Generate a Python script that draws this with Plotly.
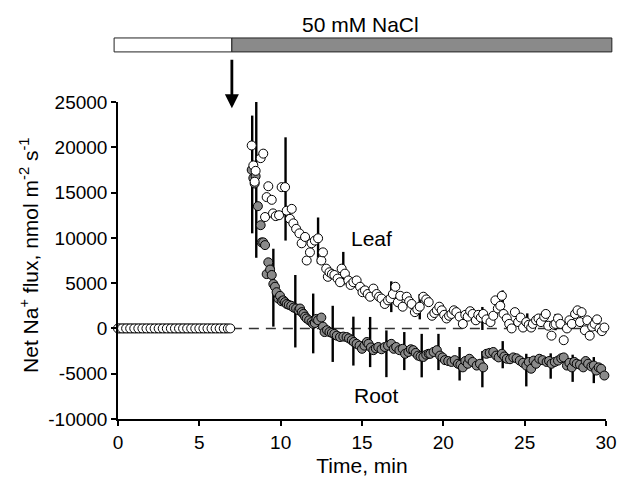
import plotly.graph_objects as go

# ---------------- data ----------------
salt_start = 7.0

pre_leaf_t = [0.0, 0.25, 0.5, 0.75, 1.0, 1.25, 1.5, 1.75, 2.0, 2.25, 2.5, 2.75, 3.0, 3.25,
              3.5, 3.75, 4.0, 4.25, 4.5, 4.75, 5.0, 5.25, 5.5, 5.75, 6.0, 6.25, 6.5, 6.75, 6.9]
pre_leaf_v = [0, 0, 0, 0, 0, 0, 0, 0, 0, 0, 0, 0, 0, 0, 0, 0, 0, 0, 0, 0, 0, 0, 0, 0, 0, 0, 0, 0, 0]
pre_root_t = [0.12, 0.37, 0.62, 0.87, 1.12, 1.37, 1.62, 1.87, 2.12, 2.37, 2.62, 2.87, 3.12, 3.37,
              3.62, 3.87, 4.12, 4.37, 4.62, 4.87, 5.12, 5.37, 5.62, 5.87, 6.12, 6.37, 6.62]
pre_root_v = [0, 0, 0, 0, 0, 0, 0, 0, 0, 0, 0, 0, 0, 0, 0, 0, 0, 0, 0, 0, 0, 0, 0, 0, 0, 0, 0]

leaf_t = [8.22, 8.32, 8.40, 8.46, 8.77, 8.93, 9.04, 9.14, 9.24, 9.45, 9.53, 9.70, 9.90, 10.06,
          10.27, 10.37, 10.57, 10.68, 10.78, 10.95, 11.15, 11.29, 11.50, 11.60, 11.80, 11.90,
          12.10, 12.30, 12.50, 12.60, 12.80, 12.90, 13.00, 13.15, 13.30, 13.50, 13.65, 13.75,
          13.95, 14.16, 14.30, 14.47, 14.67, 14.88, 15.03, 15.18, 15.35, 15.50, 15.70, 15.90,
          16.05, 16.20, 16.40, 16.60, 16.75, 16.90, 17.05, 17.20, 17.35, 17.50, 17.75, 17.90,
          18.05, 18.25, 18.40, 18.55, 18.77, 18.95, 19.10, 19.30, 19.45, 19.60, 19.75, 19.90,
          20.05, 20.20, 20.35, 20.50, 20.65, 20.80, 21.00, 21.20, 21.35, 21.50, 21.65, 21.80,
          22.00, 22.15, 22.30, 22.45, 22.65, 22.90, 23.07, 23.20, 23.35, 23.50, 23.60, 23.70,
          23.90, 24.05, 24.20, 24.40, 24.60, 24.75, 24.90, 25.10, 25.25, 25.40, 25.50, 25.70,
          25.85, 26.00, 26.20, 26.30, 26.45, 26.65, 26.80, 26.90, 27.05, 27.20, 27.40, 27.60,
          27.75, 27.90, 28.10, 28.25, 28.40, 28.50, 28.70, 28.85, 29.00, 29.15, 29.30, 29.45,
          29.60, 29.75, 29.90]
leaf_v = [20200, 18000, 16200, 17400, 18800, 19300, 12300, 14500, 15700, 14200, 12700, 12400,
          12500, 15600, 15600, 13000, 12100, 13200, 11600, 11000, 10500, 9400, 10100, 7500,
          8400, 9400, 9700, 9950, 7500, 8400, 6600, 5700, 6200, 6000, 5900, 5500, 5100, 6600,
          6050, 5300, 4800, 5100, 5300, 4600, 4000, 4200, 3800, 3500, 4400, 3800, 3500, 3300,
          2700, 3100, 3300, 3800, 4600, 2900, 3600, 2400, 3500, 3000, 2700, 1800, 2100, 2400,
          3500, 3200, 2900, 1400, 1700, 2000, 2400, 2000, 1500, 1100, 1400, 1600, 2000, 1800,
          1300, 500, 1500, 1300, 1900, 1600, 900, 1500, 1200, 1600, 1000, 700, 1400, 3100,
          2200, 2500, 3600, 1600, 1100, 500, 0, 1800, 700, 1200, 100, 700, 400, 100, 500, 900,
          1100, 700, 1300, 1600, 300, -800, 400, 500, 1100, 500, -1300, 0, 900, 500, 1600,
          2000, 700, 1800, -200, 900, -800, 200, 500, 1000, 0, -300, 100]

root_t = [8.22, 8.32, 8.40, 8.46, 8.60, 8.77, 8.83, 8.93, 9.04, 9.14, 9.24, 9.35, 9.45, 9.55,
          9.65, 9.75, 9.86, 9.96, 10.06, 10.16, 10.27, 10.37, 10.50, 10.65, 10.80, 10.95,
          11.10, 11.19, 11.30, 11.40, 11.50, 11.60, 11.75, 11.90, 12.00, 12.10, 12.20, 12.30,
          12.50, 12.60, 12.70, 12.85, 13.00, 13.15, 13.30, 13.45, 13.65, 13.85, 14.05, 14.20,
          14.37, 14.50, 14.67, 14.85, 15.00, 15.15, 15.30, 15.40, 15.55, 15.70, 15.85, 16.00,
          16.20, 16.40, 16.60, 16.80, 16.95, 17.10, 17.30, 17.50, 17.65, 17.85, 18.00, 18.15,
          18.30, 18.45, 18.60, 18.77, 18.95, 19.10, 19.20, 19.40, 19.60, 19.80, 19.95, 20.10,
          20.30, 20.50, 20.70, 20.90, 21.05, 21.20, 21.35, 21.50, 21.60, 21.80, 22.05, 22.25,
          22.45, 22.65, 22.85, 23.07, 23.25, 23.40, 23.60, 23.75, 23.90, 24.10, 24.30, 24.50,
          24.70, 24.90, 25.10, 25.25, 25.40, 25.55, 25.70, 25.90, 26.10, 26.35, 26.50, 26.65,
          26.85, 27.05, 27.25, 27.40, 27.60, 27.75, 27.90, 28.05, 28.20, 28.40, 28.60, 28.75,
          28.90, 29.10, 29.25, 29.40, 29.55, 29.70, 29.90]
root_v = [17500, 16600, 16000, 16800, 13500, 11400, 9500, 9500, 9200, 6000, 7300, 6500, 5900,
          4900, 4600, 4000, 3300, 3600, 3000, 3100, 2900, 2700, 2600, 2500, 2300, 2200, 2000,
          2200, 1800, 1600, 1300, 1100, 900, 700, 500, 600, 1050, 900, 1200, 200, -400, -200,
          -400, -500, -600, -800, -950, -900, -950, -1100, -1300, -1500, -1700, -1900, -2250,
          -1900, -1500, -1700, -2100, -2400, -2200, -2050, -2300, -2050, -1900, -1700, -2250,
          -2050, -2400, -2250, -2800, -2600, -2300, -2400, -2700, -3000, -3100, -3150, -2900,
          -2800, -2800, -2600, -2400, -3000, -3200, -3500, -3600, -3700, -3500, -3900, -4000,
          -4300, -3600, -3900, -3350, -3700, -4100, -3900, -4300, -2800, -2700, -2600, -3000,
          -3200, -2800, -3100, -3350, -3400, -3200, -3300, -3550, -3800, -4100, -3700, -4450,
          -3550, -3900, -3350, -3500, -3700, -3600, -3900, -3700, -3550, -3300, -3200, -4100,
          -3800, -4300, -3700, -3900, -4000, -4300, -3600, -3900, -4200, -4100, -4650, -4300,
          -4450, -5200]

leaf_err_t = [8.25, 10.3, 12.3, 13.85, 16.8, 18.55, 22.4, 23.65, 25.16, 26.9]
leaf_err_c = [17000, 15400, 9700, 6600, 3500, 2400, 1100, 2900, 720, 700]
leaf_err_e = [6500, 5700, 2550, 1850, 1700, 1400, 1270, 1300, 940, 900]

root_err_t = [8.5, 9.55, 10.9, 12.0, 13.2, 14.47, 15.5, 16.5, 17.6, 18.67, 19.7, 21.0,
              22.4, 23.65, 25.1, 26.6, 27.95, 29.25]
root_err_c = [16500, 4500, 1900, 550, -600, -1400, -1500, -2800, -2500, -3000, -2600, -3900,
              -4500, -2900, -4600, -4150, -4400, -4600]
root_err_e = [8700, 4300, 4000, 3300, 3100, 2700, 2770, 2580, 2100, 2400, 2000, 1850,
              2000, 1500, 1800, 1400, 1500, 1440]

x_ticks = [0, 5, 10, 15, 20, 25, 30]
y_ticks = [-10000, -5000, 0, 5000, 10000, 15000, 20000, 25000]
y_tick_labels = ["-10000", "-5000", "0", "5000", "10000", "15000", "20000", "25000"]

# ---------------- figure ----------------
FONT = "Liberation Sans, Arial, Helvetica, sans-serif"
GRAY = "#8a8a8a"
TICK_SIZE = 19
TEXT_SIZE = 21
fig = go.Figure()

# error bars (drawn beneath the markers)
for tt, cc, ee in [(root_err_t, root_err_c, root_err_e), (leaf_err_t, leaf_err_c, leaf_err_e)]:
    fig.add_trace(go.Scatter(
        x=tt, y=cc, mode="markers", marker=dict(size=1, opacity=0),
        error_y=dict(type="data", array=ee, symmetric=True, color="black",
                     thickness=2.4, width=0),
        cliponaxis=False, showlegend=False, hoverinfo="skip"))

mk_root = dict(size=9, color=GRAY, line=dict(color="black", width=1))
mk_leaf = dict(size=9, color="white", line=dict(color="black", width=1))

fig.add_trace(go.Scatter(x=pre_root_t, y=pre_root_v, mode="markers", marker=mk_root,
                         cliponaxis=False, showlegend=False))
fig.add_trace(go.Scatter(x=pre_leaf_t, y=pre_leaf_v, mode="markers", marker=mk_leaf,
                         cliponaxis=False, showlegend=False))
fig.add_trace(go.Scatter(x=root_t, y=root_v, mode="markers", marker=mk_root,
                         cliponaxis=False, showlegend=False, name="Root"))
fig.add_trace(go.Scatter(x=leaf_t, y=leaf_v, mode="markers", marker=mk_leaf,
                         cliponaxis=False, showlegend=False, name="Leaf"))

x_max = x_ticks[-1]
# dashed zero line after salt addition
fig.add_shape(type="line", xref="x", yref="y", x0=salt_start, x1=x_max, y0=0, y1=0,
              line=dict(color="#333333", width=1.5, dash="10px,7px"), layer="below")

# treatment bar on top
bar_y0, bar_y1 = 1.158, 1.202
fig.add_shape(type="rect", xref="paper", yref="paper", x0=-0.008, x1=salt_start / x_max,
              y0=bar_y0, y1=bar_y1, fillcolor="white", line=dict(color="#222222", width=1))
fig.add_shape(type="rect", xref="paper", yref="paper", x0=salt_start / x_max, x1=1.012,
              y0=bar_y0, y1=bar_y1, fillcolor=GRAY, line=dict(color="#222222", width=1))

fig.add_annotation(text="50 mM NaCl", xref="paper", yref="paper", x=0.496, y=1.246,
                   xanchor="center", yanchor="middle", showarrow=False,
                   font=dict(family=FONT, size=TEXT_SIZE, color="black"))
# arrow indicating salt addition
fig.add_annotation(x=salt_start, y=24300, xref="x", yref="y", text="", showarrow=True,
                   ax=0, ay=-50, axref="pixel", ayref="pixel", arrowhead=2, arrowsize=1.0,
                   arrowwidth=2.8, arrowcolor="black", standoff=0)

fig.add_annotation(text="Leaf", x=15.6, y=9900, xref="x", yref="y", showarrow=False,
                   xanchor="center", yanchor="middle",
                   font=dict(family=FONT, size=TEXT_SIZE, color="black"))
fig.add_annotation(text="Root", x=15.9, y=-7400, xref="x", yref="y", showarrow=False,
                   xanchor="center", yanchor="middle",
                   font=dict(family=FONT, size=TEXT_SIZE, color="black"))

# y-axis title as a rotated annotation (precise placement)
fig.add_annotation(text="Net Na<sup>+</sup> flux, nmol m<sup>-2</sup> s<sup>-1</sup>",
                   xref="paper", yref="paper", x=-0.182, y=0.515, textangle=-90,
                   xanchor="center", yanchor="middle", showarrow=False,
                   font=dict(family=FONT, size=TEXT_SIZE, color="black"))

axis_common = dict(showline=True, linecolor="black", linewidth=1.5, ticks="outside",
                   ticklen=5, tickwidth=1.5, tickcolor="black", showgrid=False,
                   zeroline=False, mirror=False, automargin=False,
                   tickfont=dict(family=FONT, size=TICK_SIZE, color="black"))

fig.update_xaxes(range=[0, x_max], tickvals=x_ticks,
                 title=dict(text="Time, min",
                            font=dict(family=FONT, size=TEXT_SIZE, color="black")),
                 **axis_common)
fig.update_yaxes(range=[y_ticks[0], y_ticks[-1]], tickvals=y_ticks, ticktext=y_tick_labels,
                 **axis_common)

fig.update_layout(width=618, height=477, margin=dict(l=118, r=12, t=102, b=58),
                  plot_bgcolor="white", paper_bgcolor="white",
                  font=dict(family=FONT, color="black"))

fig.write_html("out.html")
